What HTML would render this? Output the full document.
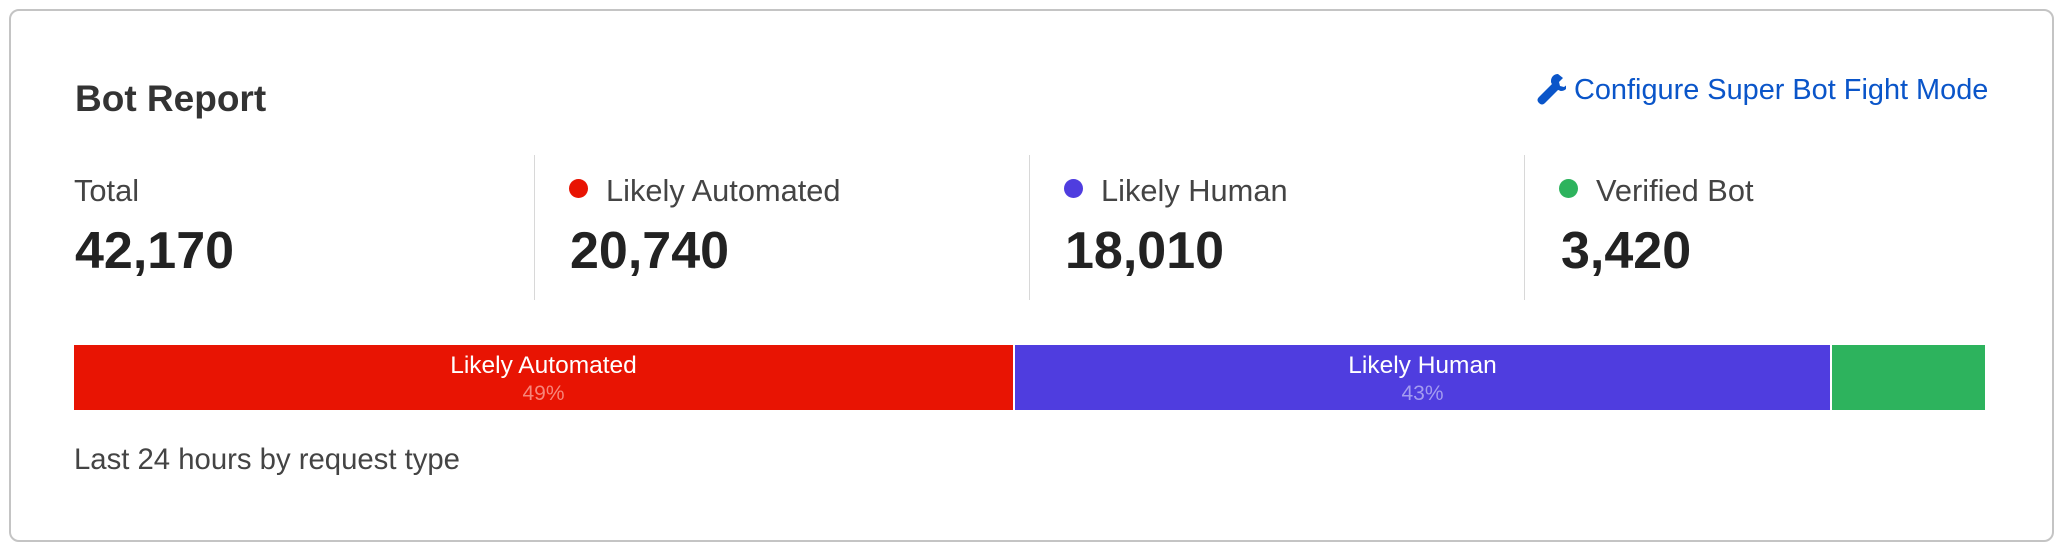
<!DOCTYPE html>
<html><head><meta charset="utf-8"><style>
body{margin:0;width:2062px;height:550px;background:#fff;font-family:"Liberation Sans",sans-serif;position:relative;overflow:hidden;color:#222}
.card{position:absolute;left:9px;top:9px;width:2041px;height:529px;border:2px solid #c4c4c4;border-radius:10px}
.a{position:absolute;white-space:nowrap}
.lbl{font-size:30.8px;color:#444;top:173px}
.num{font-size:52px;font-weight:bold;color:#222;top:221px}
.div{position:absolute;top:155px;width:1px;height:145px;background:#d8d8d8}
.dot{position:absolute;top:179px;width:19px;height:19px;border-radius:50%}
.seg{position:absolute;top:345px;height:65px;color:#fff;text-align:center}
.seg .t{font-size:24.5px;margin-top:7px}
.seg .p{font-size:21px;margin-top:2px}
</style></head><body>
<div class="card"></div>
<div class="a" style="left:75px;top:78px;font-size:37px;font-weight:bold;color:#333">Bot Report</div>
<svg class="a" style="left:1536px;top:72px" width="30" height="34" viewBox="0 0 30 34"><path d="M22 2c-4 0-7 3-7 7 0 1 0 2 1 3L3 25c-2 2-2 4 0 6s4 2 6 0l13-13c1 0 2 1 3 1 4 0 7-3 7-7l-4 3-4-1-1-4 4-4z" fill="#0a55c9"/></svg>
<div class="a" style="left:1574px;top:74px;font-size:28.9px;color:#0a55c9">Configure Super Bot Fight Mode</div>
<div class="a lbl" style="left:74px">Total</div>
<div class="a num" style="left:75px">42,170</div>
<div class="div" style="left:534px"></div>
<div class="dot" style="left:569px;background:#e81403"></div>
<div class="a lbl" style="left:606px">Likely Automated</div>
<div class="a num" style="left:570px">20,740</div>
<div class="div" style="left:1029px"></div>
<div class="dot" style="left:1064px;background:#4f3ddf"></div>
<div class="a lbl" style="left:1101px">Likely Human</div>
<div class="a num" style="left:1065px">18,010</div>
<div class="div" style="left:1524px"></div>
<div class="dot" style="left:1559px;background:#2db35d"></div>
<div class="a lbl" style="left:1596px">Verified Bot</div>
<div class="a num" style="left:1561px">3,420</div>
<div class="seg" style="left:74px;width:939px;background:#e81403"><div class="t">Likely Automated</div><div class="p" style="color:#f7857a">49%</div></div>
<div class="seg" style="left:1015px;width:815px;background:#4f3ddf"><div class="t">Likely Human</div><div class="p" style="color:#a49cf0">43%</div></div>
<div class="seg" style="left:1832px;width:153px;background:#2db35d"></div>
<div class="a" style="left:74px;top:443px;font-size:29.3px;color:#444">Last 24 hours by request type</div>
</body></html>
